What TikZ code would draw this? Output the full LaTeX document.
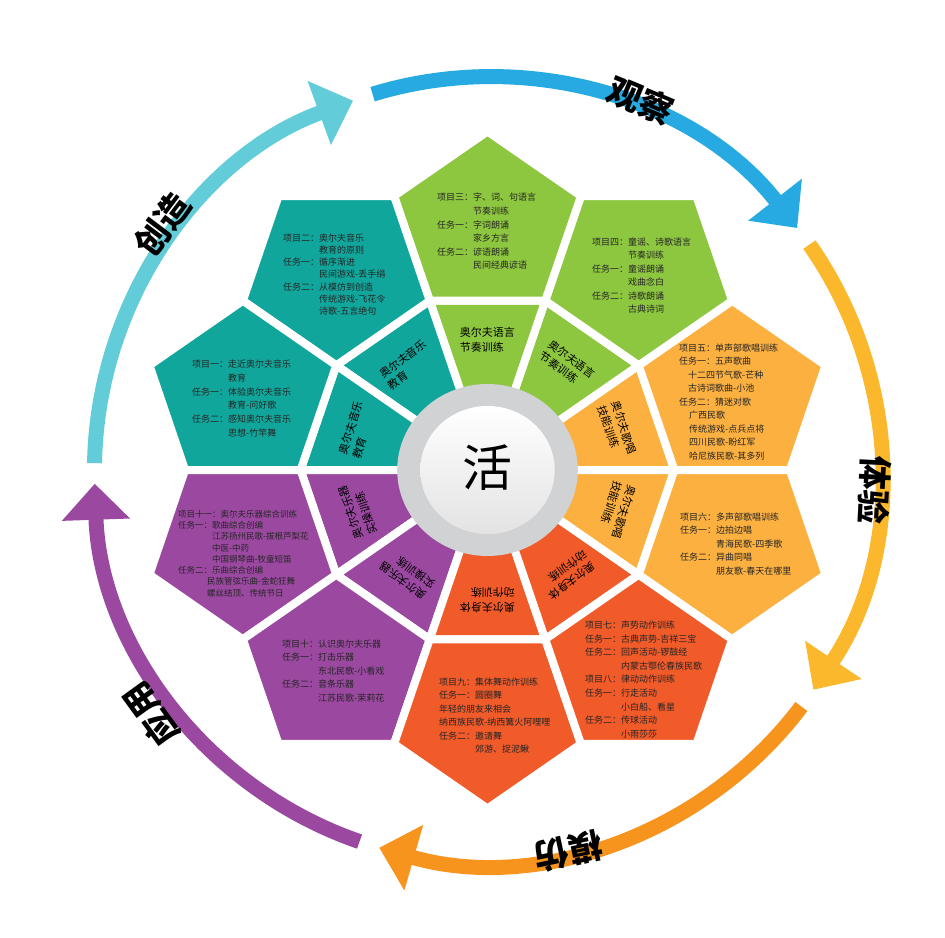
\documentclass[tikz,border=0pt]{standalone}
\usepackage{fontspec}
\setmainfont{Noto Sans CJK SC}
\usetikzlibrary{arrows.meta}

\definecolor{tealpart}{RGB}{17,166,155}
\definecolor{greenpart}{RGB}{141,198,63}
\definecolor{orangepart}{RGB}{251,176,64}
\definecolor{redpart}{RGB}{241,90,41}
\definecolor{purplepart}{RGB}{155,72,160}
\definecolor{cyanarc}{RGB}{98,204,217}
\definecolor{bluearc}{RGB}{39,170,225}
\definecolor{yellowarc}{RGB}{252,184,44}
\definecolor{orangearc}{RGB}{247,148,29}
\definecolor{purplearc}{RGB}{155,72,160}
\definecolor{hubgrey}{RGB}{208,210,212}

\tikzset{
  petal/.style={draw=white, line width=8pt, line join=round},
  seglabel/.style={font=\fontsize{11}{14.5}\selectfont, align=left, inner sep=0pt},
  plan/.style={anchor=west, align=left, inner sep=0pt, text=black!85, font=\fontsize{9}{13.6}\selectfont},
  ring/.style={line width=15pt, -{Triangle[width=66pt,length=36pt]}},
  stage/.style={font=\fontsize{34}{34}\selectfont\bfseries, inner sep=0pt}
}

\newcommand{\planindent}{\phantom{任务一：}}

\begin{document}
\begin{tikzpicture}[x=1pt,y=1pt]
\useasboundingbox (-487.5,-467) rectangle (457.5,470);

% petals and inner ring
\begin{scope}[xscale=1.05]
\foreach \k/\col in {0/orangepart,1/greenpart,2/greenpart,3/tealpart,4/tealpart,5/purplepart,6/purplepart,7/redpart,8/redpart,9/orangepart}{
  \path[fill=\col, petal] (0,0) -- ({36*\k}:178) -- ({36*\k+36}:178) -- cycle;
  \path[fill=\col, petal] ({36*\k}:178) -- ({36*\k}:288) -- ({36*\k+18}:338.5) -- ({36*\k+36}:288) -- ({36*\k+36}:178) -- cycle;
}
\foreach \m/\txt [count=\i] in {18/{奥尔夫歌唱\\技能训练}, 54/{奥尔夫语言\\节奏训练}, 90/{奥尔夫语言\\节奏训练},
    126/{奥尔夫音乐\\教育}, 162/{奥尔夫音乐\\教育}, 198/{奥尔夫乐器\\实操训练}, 234/{奥尔夫乐器\\实操训练},
    270/{奥尔夫身体\\动作训练}, 306/{奥尔夫身体\\动作训练}, 342/{奥尔夫歌唱\\技能训练}}
  \node[seglabel, rotate=\m-90] (seg\i) at (\m:130) {\txt};
% hub
\fill[hubgrey] (0,0) circle[radius=86];
\shade[top color=white, bottom color=gray!22] (0,0) circle[radius=64];
\end{scope}
\node[font=\fontsize{50}{50}\selectfont] (hub) at (0,2) {活};

% outer cycle
\foreach \s/\col in {108/bluearc,36/yellowarc,-36/orangearc,-108/purplearc,180/cyanarc}
  \draw[ring, \col] ({\s-1}:393) arc[start angle=\s-1, end angle=\s-70, radius=393];
\node[stage, rotate=-22.5] (observe) at (67.5:400) {观察};
\node[stage, rotate=-93] (experience) at (-3:388) {体验};
\node[stage, rotate=-168] (imitate) at (-78:390) {模仿};
\node[stage, rotate=126] (apply) at (-144:416) {应用};
\node[stage, rotate=53] (create) at (143:407) {创造};

% projects
\node[plan] (plan3) at (-50.5,238.5) {项目三：字、词、句语言\\\planindent 节奏训练\\任务一：字词朗诵\\\planindent 家乡方言\\任务二：谚语朗诵\\\planindent 民间经典谚语};
\node[plan, font=\fontsize{9}{13.4}\selectfont] (plan4) at (104.5,194.5) {项目四：童谣、诗歌语言\\\planindent 节奏训练\\任务一：童谣朗诵\\\planindent 戏曲念白\\任务二：诗歌朗诵\\\planindent 古典诗词};
\node[plan, font=\fontsize{9}{13.5}\selectfont] (plan5) at (191.5,68) {项目五：单声部歌唱训练\\任务一：五声歌曲\\\hspace*{9pt}十二四节气歌-芒种\\\hspace*{9pt}古诗词歌曲-小池\\任务二：猜迷对歌\\\hspace*{10pt}广西民歌\\\hspace*{10pt}传统游戏-点兵点将\\\hspace*{10pt}四川民歌-盼红军\\\hspace*{10pt}哈尼族民歌-其多列};
\node[plan, font=\fontsize{9}{13.5}\selectfont] (plan6) at (192.5,-74) {项目六：多声部歌唱训练\\任务一：边拍边唱\\\planindent 青海民歌-四季歌\\任务二：异曲同唱\\\planindent 朋友歌-春天在哪里};
\node[plan] (plan7) at (97.5,-209.5) {项目七：声势动作训练\\任务一：古典声势-吉祥三宝\\任务二：回声活动-锣鼓经\\\planindent 内蒙古鄂伦春族民歌\\项目八：律动动作训练\\任务一：行走活动\\\planindent 小白船、看星\\任务二：传球活动\\\planindent 小雨莎莎};
\node[plan, font=\fontsize{9}{13.4}\selectfont] (plan9) at (-48.5,-245.5) {项目九：集体舞动作训练\\任务一：圆圈舞\\年轻的朋友来相会\\纳西族民歌-纳西篝火阿哩哩\\任务二：邀请舞\\\planindent 郊游、捉泥鳅};
\node[plan, font=\fontsize{9}{13.5}\selectfont] (plan10) at (-205.5,-201) {项目十：认识奥尔夫乐器\\任务一：打击乐器\\\planindent 东北民歌-小看戏\\任务二：音条乐器\\\planindent 江苏民歌-茉莉花};
\node[plan, font=\fontsize{8.5}{11.3}\selectfont] (plan11) at (-309.5,-83.5) {项目十一：奥尔夫乐器综合训练\\任务一：歌曲综合创编\\\planindent 江苏扬州民歌-拔根芦梨花\\\planindent 中医-中药\\\planindent 中国钢琴曲-牧童短笛\\任务二：乐曲综合创编\\\hspace*{29pt}民族管弦乐曲-金蛇狂舞\\\hspace*{29pt}螺丝结顶、传统节日};
\node[plan, font=\fontsize{9}{13.8}\selectfont] (plan1) at (-295.5,71.5) {项目一：走近奥尔夫音乐\\\planindent 教育\\任务一：体验奥尔夫音乐\\\planindent 教育-问好歌\\任务二：感知奥尔夫音乐\\\planindent 思想-竹竿舞};
\node[plan, font=\fontsize{9}{12.1}\selectfont] (plan2) at (-204.5,195.5) {项目二：奥尔夫音乐\\\planindent 教育的原则\\任务一：循序渐进\\\planindent 民间游戏-丢手绢\\任务二：从模仿到创造\\\planindent 传统游戏-飞花令\\\planindent 诗歌-五言绝句};
\end{tikzpicture}
\end{document}
